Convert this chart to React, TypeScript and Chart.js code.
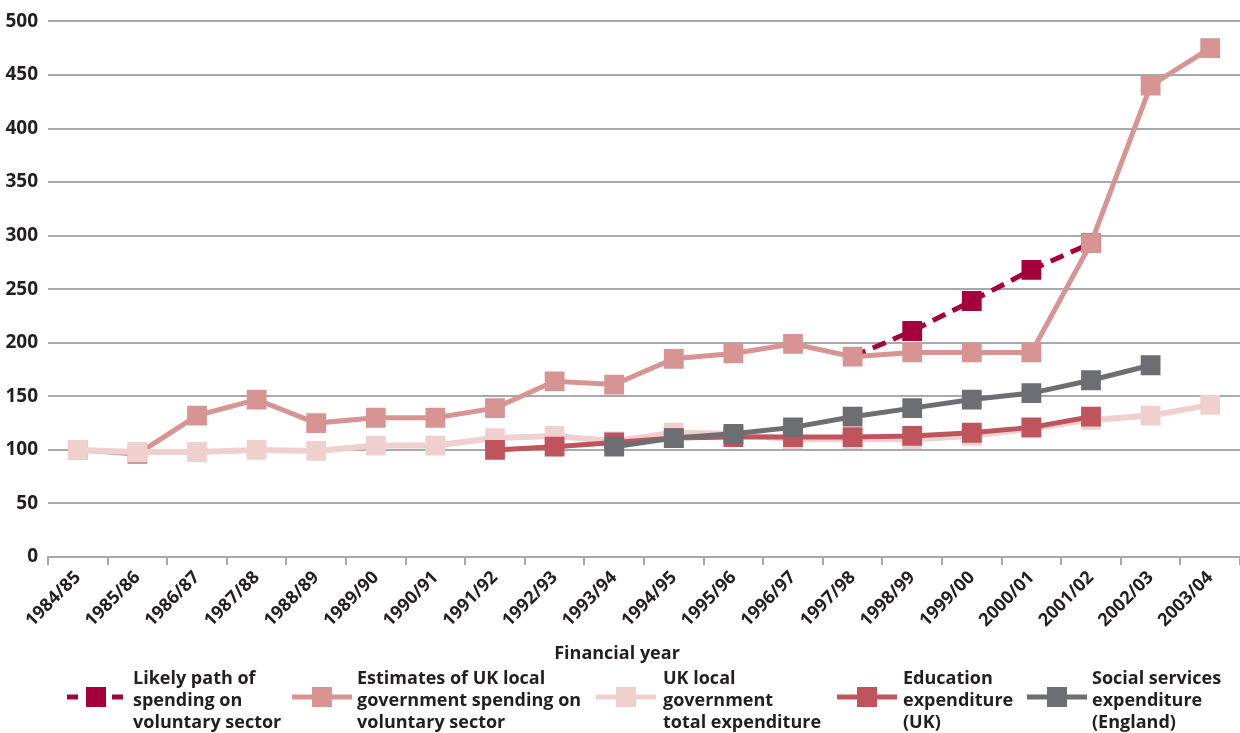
import React, { useEffect, useRef } from 'react';
import { Chart, registerables } from 'chart.js';

Chart.register(...registerables);

const categories = [
  '1984/85', '1985/86', '1986/87', '1987/88', '1988/89', '1989/90', '1990/91',
  '1991/92', '1992/93', '1993/94', '1994/95', '1995/96', '1996/97', '1997/98',
  '1998/99', '1999/00', '2000/01', '2001/02', '2002/03', '2003/04',
];

const likelyPath = [
  null, null, null, null, null, null, null, null, null, null, null, null, null,
  187, 211, 239, 268, 293, null, null,
];

const estimatesVoluntary = [
  100, 96, 132, 147, 125, 130, 130, 139, 164, 161, 185, 190, 199, 187, 191, 191, 191, 293, 440, 475,
];

const localTotal = [
  100, 98, 98, 100, 99, 104, 104, 111, 113, 108, 116, 115, 110, 110, 110, 113, 120, 128, 132, 142,
];

const education = [
  null, null, null, null, null, null, null,
  100, 103, 107, 111, 112, 112, 112, 113, 116, 121, 131, null, null,
];

const socialServices = [
  null, null, null, null, null, null, null, null, null,
  103, 111, 115, 121, 131, 139, 147, 153, 165, 179, null,
];

const yTicks = [0, 50, 100, 150, 200, 250, 300, 350, 400, 450, 500];

const legendLabels = [
  ['Likely path of', 'spending on', 'voluntary sector'],
  ['Estimates of UK local', 'government spending on', 'voluntary sector'],
  ['UK local', 'government', 'total expenditure'],
  ['Education', 'expenditure', '(UK)'],
  ['Social services', 'expenditure', '(England)'],
];

const COLORS = {
  likely: '#a6003a',
  estimates: '#d79492',
  total: '#f0d0cf',
  education: '#c0545c',
  social: '#6d6e71',
  grid: '#a7a9ac',
  text: '#231f20',
};

const FONT = '"Open Sans", "Noto Sans", sans-serif';

const legendLayout = [
  { color: COLORS.likely, dashed: true, markerX: 66, textX: 133 },
  { color: COLORS.estimates, dashed: false, markerX: 292, textX: 357 },
  { color: COLORS.total, dashed: false, markerX: 596, textX: 663 },
  { color: COLORS.education, dashed: false, markerX: 837, textX: 903 },
  { color: COLORS.social, dashed: false, markerX: 1027, textX: 1092 },
];

function LegendMarker({ color, dashed }: { color: string; dashed: boolean }) {
  return (
    <svg width={60} height={22} style={{ display: 'block' }}>
      {dashed ? (
        <>
          <rect x={1} y={8.5} width={11} height={5} fill={color} />
          <rect x={20} y={1} width={20} height={20} fill={color} />
          <rect x={46} y={8.5} width={11} height={5} fill={color} />
        </>
      ) : (
        <>
          <rect x={0} y={8.5} width={60} height={5} fill={color} />
          <rect x={20} y={1} width={20} height={20} fill={color} />
        </>
      )}
    </svg>
  );
}

export default function App() {
  const canvasRef = useRef<HTMLCanvasElement | null>(null);

  useEffect(() => {
    if (!canvasRef.current) return;
    const mk = (label: string, data: (number | null)[], color: string, order: number, extra: any = {}) => ({
      label,
      data,
      borderColor: color,
      backgroundColor: color,
      pointBackgroundColor: color,
      pointBorderColor: color,
      pointBorderWidth: 0,
      pointStyle: 'rect',
      pointRadius: 14,
      pointHoverRadius: 14,
      borderWidth: 5,
      tension: 0,
      fill: false,
      order,
      ...extra,
    });
    const chart = new Chart(canvasRef.current, {
      type: 'line',
      data: {
        labels: categories,
        datasets: [
          mk(legendLabels[0].join(' '), likelyPath, COLORS.likely, 4, {
            borderDash: [14, 8],
            pointRadius: likelyPath.map((v, i) => (i === 13 ? 0 : 14)),
          }),
          mk(legendLabels[1].join(' '), estimatesVoluntary, COLORS.estimates, 3),
          mk(legendLabels[2].join(' '), localTotal, COLORS.total, 2, { borderWidth: 6 }),
          mk(legendLabels[3].join(' '), education, COLORS.education, 1),
          mk(legendLabels[4].join(' '), socialServices, COLORS.social, 0),
        ],
      },
      options: {
        responsive: false,
        animation: false,
        layout: { autoPadding: false, padding: { top: 20, right: 0, bottom: 86, left: 0 } },
        plugins: {
          legend: { display: false },
          tooltip: { enabled: false },
          title: { display: false },
        },
        scales: {
          x: {
            type: 'category',
            offset: true,
            afterFit: (scale: any) => {
              scale.height = 90;
              scale.paddingRight = 0;
            },
            grid: {
              offset: true,
              drawOnChartArea: false,
              drawTicks: true,
              tickLength: 8,
              color: COLORS.grid,
              lineWidth: 2,
            },
            border: { display: true, color: COLORS.grid, width: 2 },
            ticks: {
              maxRotation: 45,
              minRotation: 45,
              autoSkip: false,
              padding: 2,
              color: COLORS.text,
              font: { family: FONT, size: 18, weight: 'bold' },
            },
          },
          y: {
            min: 0,
            max: 500,
            afterFit: (scale: any) => {
              scale.width = 48;
            },
            afterBuildTicks: (scale: any) => {
              scale.ticks = yTicks.map((v) => ({ value: v }));
            },
            grid: {
              color: COLORS.grid,
              lineWidth: 2,
              drawTicks: false,
            },
            border: { display: false },
            ticks: {
              padding: 10,
              color: COLORS.text,
              font: { family: FONT, size: 19, weight: 'bold' },
            },
          },
        },
      },
    });
    return () => chart.destroy();
  }, []);

  return (
    <div style={{ position: 'absolute', left: 0, top: 0, width: 1240, height: 733, background: '#fff', overflow: 'hidden' }}>
      <canvas ref={canvasRef} width={1240} height={733} style={{ position: 'absolute', left: 0, top: 0 }} />
      <div
        style={{
          position: 'absolute',
          left: 0,
          width: 1234,
          top: 639,
          textAlign: 'center',
          fontFamily: FONT,
          fontWeight: 700,
          fontSize: 18,
          lineHeight: '26px',
          color: COLORS.text,
        }}
      >
        Financial year
      </div>
      {legendLayout.map((item, i) => (
        <React.Fragment key={i}>
          <div style={{ position: 'absolute', left: item.markerX, top: 686 }}>
            <LegendMarker color={item.color} dashed={item.dashed} />
          </div>
          <div
            style={{
              position: 'absolute',
              left: item.textX,
              top: 666,
              fontFamily: FONT,
              fontWeight: 700,
              fontSize: 18,
              lineHeight: '22px',
              color: COLORS.text,
              whiteSpace: 'nowrap',
            }}
          >
            {legendLabels[i].map((line, j) => (
              <div key={j}>{line}</div>
            ))}
          </div>
        </React.Fragment>
      ))}
    </div>
  );
}
